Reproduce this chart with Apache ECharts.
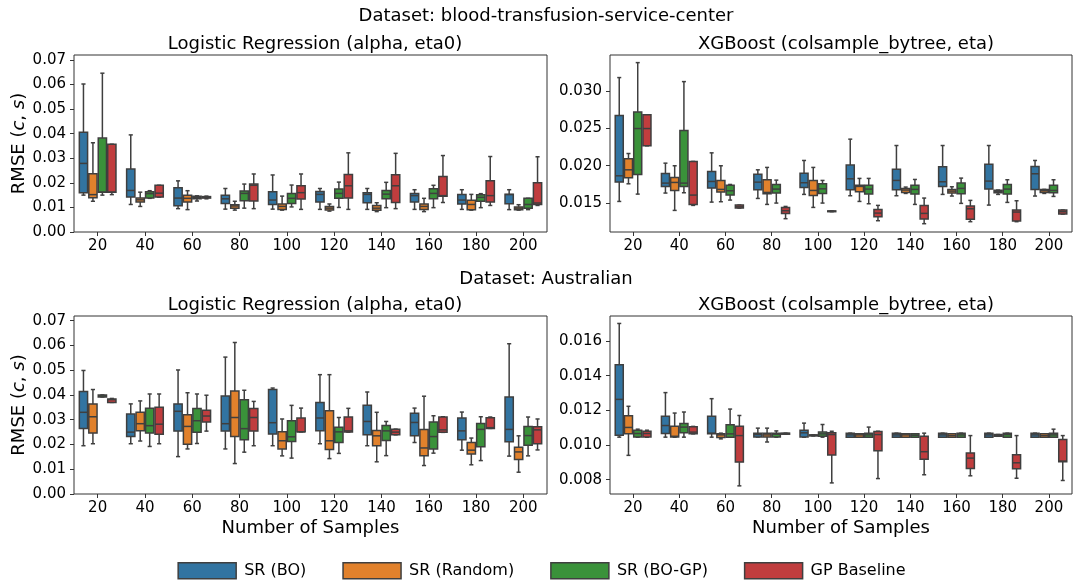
<!DOCTYPE html>
<html>
<head>
<meta charset="utf-8">
<script src="https://cdn.jsdelivr.net/npm/echarts@6/dist/echarts.min.js"></script>
<style>
  html, body { margin: 0; padding: 0; background: #fff; }
  #chart { width: 1083px; height: 580px; }
</style>
</head>
<body>
<div id="chart"></div>
<script>
// Sample sizes on the x axis
const categories = ['20', '40', '60', '80', '100', '120', '140', '160', '180', '200'];
const seriesNames = ['SR (BO)', 'SR (Random)', 'SR (BO-GP)', 'GP Baseline'];
const seriesColors = ['#3274a1', '#e1812c', '#3a923a', '#c03d3e'];

// Each entry: [lower whisker, Q1, median, Q3, upper whisker]
// blood-transfusion-service-center, Logistic Regression
const bloodLR_BO = [
  [0.0150, 0.0160, 0.0279, 0.0406, 0.0602], [0.0112, 0.0142, 0.0169, 0.0256, 0.0395],
  [0.0095, 0.0107, 0.0138, 0.0180, 0.0208], [0.0093, 0.0116, 0.0135, 0.0150, 0.0177],
  [0.0093, 0.0112, 0.0130, 0.0164, 0.0232], [0.0092, 0.0122, 0.0153, 0.0165, 0.0177],
  [0.0092, 0.0119, 0.0153, 0.0160, 0.0177], [0.0092, 0.0122, 0.0148, 0.0157, 0.0172],
  [0.0092, 0.0114, 0.0130, 0.0153, 0.0172], [0.0091, 0.0115, 0.0152, 0.0154, 0.0172]
];
const bloodLR_Random = [
  [0.0125, 0.0139, 0.0152, 0.0237, 0.0363], [0.0104, 0.0122, 0.0131, 0.0138, 0.0162],
  [0.0091, 0.0122, 0.0137, 0.0149, 0.0168], [0.0089, 0.0097, 0.0106, 0.0111, 0.0125],
  [0.0089, 0.0092, 0.0104, 0.0114, 0.0146], [0.0085, 0.0089, 0.0097, 0.0104, 0.0114],
  [0.0083, 0.0088, 0.0097, 0.0108, 0.0119], [0.0083, 0.0092, 0.0104, 0.0114, 0.0137],
  [0.0089, 0.0091, 0.0112, 0.0129, 0.0153], [0.0089, 0.0091, 0.0097, 0.0102, 0.0111]
];
const bloodLR_BOGP = [
  [0.0150, 0.0162, 0.0162, 0.0382, 0.0646], [0.0137, 0.0138, 0.0156, 0.0164, 0.0168],
  [0.0126, 0.0135, 0.0141, 0.0145, 0.0147], [0.0097, 0.0127, 0.0157, 0.0167, 0.0195],
  [0.0102, 0.0116, 0.0137, 0.0157, 0.0191], [0.0100, 0.0137, 0.0157, 0.0175, 0.0203],
  [0.0099, 0.0135, 0.0154, 0.0169, 0.0202], [0.0099, 0.0135, 0.0157, 0.0176, 0.0190],
  [0.0099, 0.0125, 0.0141, 0.0152, 0.0156], [0.0091, 0.0097, 0.0112, 0.0137, 0.0137]
];
const bloodLR_GP = [
  [0.0152, 0.0162, 0.0162, 0.0357, 0.0357], [0.0142, 0.0142, 0.0158, 0.0190, 0.0190],
  [0.0135, 0.0138, 0.0141, 0.0144, 0.0146], [0.0095, 0.0126, 0.0190, 0.0195, 0.0236],
  [0.0092, 0.0134, 0.0160, 0.0188, 0.0236], [0.0092, 0.0138, 0.0188, 0.0234, 0.0322],
  [0.0095, 0.0120, 0.0188, 0.0233, 0.0320], [0.0120, 0.0145, 0.0148, 0.0226, 0.0311],
  [0.0108, 0.0122, 0.0148, 0.0208, 0.0307], [0.0108, 0.0112, 0.0118, 0.0200, 0.0306]
];

// blood-transfusion-service-center, XGBoost
const bloodXGB_BO = [
  [0.01522, 0.01781, 0.01865, 0.02671, 0.03179], [0.01634, 0.01723, 0.01767, 0.01896, 0.02034],
  [0.01513, 0.01700, 0.01789, 0.01923, 0.02172], [0.01562, 0.01678, 0.01780, 0.01887, 0.01945],
  [0.01616, 0.01709, 0.01772, 0.01900, 0.02070], [0.01598, 0.01678, 0.01825, 0.02008, 0.02355],
  [0.01598, 0.01678, 0.01803, 0.01954, 0.02270], [0.01616, 0.01723, 0.01785, 0.01985, 0.02270],
  [0.01473, 0.01687, 0.01794, 0.02021, 0.02270], [0.01594, 0.01683, 0.01892, 0.01990, 0.02070]
];
const bloodXGB_Random = [
  [0.01758, 0.01838, 0.01945, 0.02092, 0.02163], [0.01402, 0.01669, 0.01776, 0.01843, 0.01999],
  [0.01518, 0.01647, 0.01683, 0.01803, 0.01999], [0.01482, 0.01625, 0.01642, 0.01812, 0.01977],
  [0.01442, 0.01602, 0.01669, 0.01803, 0.01977], [0.01522, 0.01651, 0.01723, 0.01740, 0.01830],
  [0.01629, 0.01642, 0.01674, 0.01696, 0.01714], [0.01594, 0.01634, 0.01660, 0.01683, 0.01718],
  [0.01616, 0.01638, 0.01656, 0.01670, 0.01674], [0.01629, 0.01642, 0.01665, 0.01683, 0.01683]
];
const bloodXGB_BOGP = [
  [0.01620, 0.01883, 0.02497, 0.02720, 0.03379], [0.01638, 0.01723, 0.01767, 0.02471, 0.03125],
  [0.01540, 0.01607, 0.01665, 0.01740, 0.01749], [0.01500, 0.01634, 0.01687, 0.01749, 0.01807],
  [0.01500, 0.01629, 0.01691, 0.01758, 0.01803], [0.01491, 0.01620, 0.01687, 0.01740, 0.01830],
  [0.01482, 0.01620, 0.01683, 0.01740, 0.01816], [0.01496, 0.01625, 0.01696, 0.01767, 0.01834],
  [0.01509, 0.01620, 0.01687, 0.01749, 0.01812], [0.01589, 0.01638, 0.01669, 0.01740, 0.01812]
];
const bloodXGB_GP = [
  [0.02266, 0.02266, 0.02497, 0.02680, 0.02680], [0.01469, 0.01482, 0.01607, 0.02057, 0.02057],
  [0.01433, 0.01433, 0.01450, 0.01473, 0.01473], [0.01291, 0.01362, 0.01398, 0.01442, 0.01455],
  [0.01385, 0.01385, 0.01390, 0.01395, 0.01395], [0.01264, 0.01317, 0.01366, 0.01415, 0.01469],
  [0.01224, 0.01286, 0.01362, 0.01469, 0.01567], [0.01251, 0.01282, 0.01424, 0.01460, 0.01536],
  [0.01251, 0.01260, 0.01380, 0.01407, 0.01531], [0.01353, 0.01353, 0.01384, 0.01407, 0.01407]
];

// Australian, Logistic Regression
const ausLR_BO = [
  [0.0195, 0.0265, 0.0330, 0.0414, 0.0499], [0.0203, 0.0232, 0.0250, 0.0323, 0.0364],
  [0.0151, 0.0254, 0.0334, 0.0364, 0.0501], [0.0182, 0.0254, 0.0284, 0.0396, 0.0553],
  [0.0195, 0.0242, 0.0288, 0.0422, 0.0428], [0.0203, 0.0255, 0.0307, 0.0370, 0.0482],
  [0.0195, 0.0239, 0.0293, 0.0358, 0.0412], [0.0208, 0.0235, 0.0289, 0.0326, 0.0347],
  [0.0177, 0.0219, 0.0255, 0.0307, 0.0331], [0.0153, 0.0211, 0.0261, 0.0392, 0.0607]
];
const ausLR_Random = [
  [0.0203, 0.0246, 0.0312, 0.0364, 0.0422], [0.0214, 0.0255, 0.0284, 0.0330, 0.0376],
  [0.0182, 0.0201, 0.0273, 0.0320, 0.0409], [0.0123, 0.0232, 0.0309, 0.0416, 0.0612],
  [0.0154, 0.0182, 0.0215, 0.0251, 0.0303], [0.0143, 0.0180, 0.0215, 0.0336, 0.0482],
  [0.0130, 0.0195, 0.0235, 0.0257, 0.0330], [0.0115, 0.0154, 0.0186, 0.0261, 0.0395],
  [0.0118, 0.0162, 0.0177, 0.0208, 0.0226], [0.0088, 0.0139, 0.0170, 0.0189, 0.0235]
];
const ausLR_BOGP = [
  [0.0392, 0.0392, 0.0396, 0.0400, 0.0400], [0.0192, 0.0246, 0.0276, 0.0346, 0.0404],
  [0.0204, 0.0249, 0.0296, 0.0345, 0.0404], [0.0169, 0.0219, 0.0264, 0.0381, 0.0419],
  [0.0145, 0.0212, 0.0231, 0.0296, 0.0358], [0.0164, 0.0208, 0.0251, 0.0270, 0.0309],
  [0.0155, 0.0216, 0.0255, 0.0277, 0.0293], [0.0165, 0.0182, 0.0232, 0.0291, 0.0316],
  [0.0135, 0.0191, 0.0261, 0.0285, 0.0312], [0.0154, 0.0197, 0.0236, 0.0273, 0.0311]
];
const ausLR_GP = [
  [0.0370, 0.0370, 0.0381, 0.0384, 0.0386], [0.0203, 0.0241, 0.0282, 0.0350, 0.0404],
  [0.0254, 0.0291, 0.0315, 0.0338, 0.0399], [0.0195, 0.0254, 0.0309, 0.0345, 0.0374],
  [0.0251, 0.0251, 0.0251, 0.0307, 0.0347], [0.0250, 0.0250, 0.0255, 0.0311, 0.0346],
  [0.0239, 0.0239, 0.0250, 0.0262, 0.0262], [0.0249, 0.0249, 0.0259, 0.0311, 0.0312],
  [0.0265, 0.0265, 0.0268, 0.0308, 0.0311], [0.0178, 0.0203, 0.0259, 0.0272, 0.0303]
];

// Australian, XGBoost
const ausXGB_BO = [
  [0.01045, 0.01056, 0.01263, 0.01463, 0.01701], [0.01045, 0.01066, 0.01112, 0.01165, 0.01302],
  [0.01045, 0.01064, 0.01068, 0.01165, 0.01267], [0.01046, 0.01046, 0.01060, 0.01068, 0.01097],
  [0.01045, 0.01046, 0.01070, 0.01085, 0.01126], [0.01045, 0.01045, 0.01058, 0.01068, 0.01068],
  [0.01045, 0.01045, 0.01058, 0.01068, 0.01068], [0.01045, 0.01045, 0.01058, 0.01068, 0.01068],
  [0.01045, 0.01045, 0.01058, 0.01068, 0.01068], [0.01045, 0.01045, 0.01058, 0.01068, 0.01068]
];
const ausXGB_Random = [
  [0.00940, 0.01064, 0.01101, 0.01169, 0.01223], [0.01045, 0.01046, 0.01050, 0.01108, 0.01184],
  [0.01035, 0.01043, 0.01058, 0.01064, 0.01068], [0.01017, 0.01046, 0.01058, 0.01068, 0.01097],
  [0.01052, 0.01052, 0.01056, 0.01058, 0.01058], [0.01045, 0.01045, 0.01058, 0.01064, 0.01064],
  [0.01045, 0.01045, 0.01058, 0.01064, 0.01064], [0.01045, 0.01045, 0.01054, 0.01064, 0.01064],
  [0.01050, 0.01050, 0.01056, 0.01060, 0.01060], [0.01045, 0.01045, 0.01054, 0.01064, 0.01064]
];
const ausXGB_BOGP = [
  [0.01045, 0.01046, 0.01066, 0.01085, 0.01091], [0.01045, 0.01070, 0.01103, 0.01124, 0.01190],
  [0.01045, 0.01045, 0.01064, 0.01116, 0.01207], [0.01045, 0.01046, 0.01062, 0.01068, 0.01081],
  [0.01045, 0.01050, 0.01064, 0.01074, 0.01118], [0.01045, 0.01045, 0.01058, 0.01068, 0.01103],
  [0.01045, 0.01045, 0.01056, 0.01064, 0.01064], [0.01045, 0.01045, 0.01058, 0.01068, 0.01068],
  [0.01045, 0.01045, 0.01060, 0.01068, 0.01068], [0.01045, 0.01045, 0.01058, 0.01068, 0.01091]
];
const ausXGB_GP = [
  [0.01045, 0.01046, 0.01066, 0.01079, 0.01085], [0.01064, 0.01064, 0.01074, 0.01105, 0.01107],
  [0.00764, 0.00901, 0.01054, 0.01108, 0.01170], [0.01062, 0.01062, 0.01066, 0.01068, 0.01068],
  [0.00781, 0.00942, 0.01060, 0.01070, 0.01079], [0.00806, 0.00967, 0.01060, 0.01077, 0.01079],
  [0.00828, 0.00917, 0.00961, 0.01050, 0.01068], [0.00822, 0.00864, 0.00924, 0.00954, 0.01054],
  [0.00808, 0.00862, 0.00897, 0.00944, 0.01054], [0.00795, 0.00903, 0.00907, 0.01031, 0.01054]
];

// Tick values for the y axes
const lrTicks = [0, 0.01, 0.02, 0.03, 0.04, 0.05, 0.06, 0.07];
const bloodXGBTicks = [0.015, 0.020, 0.025, 0.030];
const ausXGBTicks = [0.008, 0.010, 0.012, 0.014, 0.016];

const FONT = 'DejaVu Sans';
const LINE = '#3f3f3f';
const SPINE = '#333';

const panels = [
  { grid: { left: 74, top: 55, width: 473, height: 177 }, min: 0, max: 0.0720, ticks: lrTicks, digits: 2,
    yName: true, xName: false, data: [bloodLR_BO, bloodLR_Random, bloodLR_BOGP, bloodLR_GP] },
  { grid: { left: 610, top: 55, width: 462, height: 177 }, min: 0.01113, max: 0.03481, ticks: bloodXGBTicks, digits: 3,
    yName: false, xName: false, data: [bloodXGB_BO, bloodXGB_Random, bloodXGB_BOGP, bloodXGB_GP] },
  { grid: { left: 74, top: 316, width: 473, height: 178 }, min: 0, max: 0.0719, ticks: lrTicks, digits: 2,
    yName: true, xName: true, data: [ausLR_BO, ausLR_Random, ausLR_BOGP, ausLR_GP] },
  { grid: { left: 610, top: 316, width: 462, height: 178 }, min: 0.00717, max: 0.01744, ticks: ausXGBTicks, digits: 3,
    yName: false, xName: true, data: [ausXGB_BO, ausXGB_Random, ausXGB_BOGP, ausXGB_GP] }
];

// Draws one box: whiskers with half-width caps, filled box, median line
function boxRenderer(hue) {
  return function (params, api) {
    const cat = api.value(0);
    const band = api.size([1, 0])[0];
    const slot = band * 0.8 / 4;
    const cx = api.coord([cat, 0])[0] + (hue - 1.5) * slot;
    const w = slot - 1.2;
    const capHalf = w / 4;
    const y = (i) => api.coord([cat, api.value(i)])[1];
    const yLow = y(1), yQ1 = y(2), yMed = y(3), yQ3 = y(4), yHigh = y(5);
    const lineStyle = { stroke: LINE, lineWidth: 1.5, fill: null };
    return {
      type: 'group',
      children: [
        { type: 'line', shape: { x1: cx, y1: yQ3, x2: cx, y2: yHigh }, style: lineStyle },
        { type: 'line', shape: { x1: cx, y1: yQ1, x2: cx, y2: yLow }, style: lineStyle },
        { type: 'line', shape: { x1: cx - capHalf, y1: yHigh, x2: cx + capHalf, y2: yHigh }, style: lineStyle },
        { type: 'line', shape: { x1: cx - capHalf, y1: yLow, x2: cx + capHalf, y2: yLow }, style: lineStyle },
        { type: 'rect', shape: { x: cx - w / 2, y: yQ3, width: w, height: Math.max(yQ1 - yQ3, 0.5) },
          style: { fill: seriesColors[hue], stroke: LINE, lineWidth: 1.5 } },
        { type: 'line', shape: { x1: cx - w / 2, y1: yMed, x2: cx + w / 2, y2: yMed }, style: lineStyle }
      ]
    };
  };
}

const grids = [], xAxes = [], yAxes = [], series = [];
panels.forEach((p, i) => {
  grids.push(Object.assign({ show: true, borderColor: SPINE, borderWidth: 1, backgroundColor: '#fff' }, p.grid));
  xAxes.push({
    type: 'category', gridIndex: i, data: categories, boundaryGap: true,
    axisLine: { show: false },
    axisTick: { show: true, alignWithLabel: true, length: 4, lineStyle: { color: SPINE } },
    axisLabel: { fontFamily: FONT, fontSize: 15, color: '#000', margin: 7 },
    name: p.xName ? 'Number of Samples' : '', nameLocation: 'middle', nameGap: 25,
    nameTextStyle: { fontFamily: FONT, fontSize: 18, color: '#000' }
  });
  yAxes.push({
    type: 'value', gridIndex: i, min: p.min, max: p.max,
    splitLine: { show: false }, axisLine: { show: false },
    axisTick: { show: true, length: 4, customValues: p.ticks, lineStyle: { color: SPINE } },
    axisLabel: { fontFamily: FONT, fontSize: 15, color: '#000', margin: 8, customValues: p.ticks,
      formatter: (v) => v.toFixed(p.digits) },
    name: p.yName ? 'RMSE ({it|c}, {it|s})' : '', nameLocation: 'middle', nameGap: 42, nameRotate: 90,
    nameTextStyle: { fontFamily: FONT, fontSize: 18, color: '#000',
      rich: { it: { fontFamily: FONT, fontSize: 18, fontStyle: 'italic', color: '#000' } } }
  });
  p.data.forEach((arr, hue) => {
    series.push({
      type: 'custom', name: seriesNames[hue], xAxisIndex: i, yAxisIndex: i,
      itemStyle: { color: seriesColors[hue] },
      renderItem: boxRenderer(hue),
      encode: { x: 0, y: [1, 2, 3, 4, 5] },
      data: arr.map((d, k) => [k].concat(d)),
      silent: true, animation: false
    });
  });
});

const titleStyle = { fontFamily: FONT, fontSize: 18, fontWeight: 'normal', color: '#000' };
const chart = echarts.init(document.getElementById('chart'), null, { renderer: 'canvas' });
chart.setOption({
  animation: false,
  backgroundColor: '#fff',
  title: [
    { text: 'Dataset: blood-transfusion-service-center', left: 541, top: 2, textAlign: 'center', textStyle: titleStyle },
    { text: 'Logistic Regression (alpha, eta0)', left: 310, top: 30, textAlign: 'center', textStyle: titleStyle },
    { text: 'XGBoost (colsample_bytree, eta)', left: 841, top: 30, textAlign: 'center', textStyle: titleStyle },
    { text: 'Dataset: Australian', left: 541, top: 265, textAlign: 'center', textStyle: titleStyle },
    { text: 'Logistic Regression (alpha, eta0)', left: 310, top: 291, textAlign: 'center', textStyle: titleStyle },
    { text: 'XGBoost (colsample_bytree, eta)', left: 841, top: 291, textAlign: 'center', textStyle: titleStyle }
  ],
  legend: {
    left: 'center', top: 557, itemWidth: 58, itemHeight: 16, itemGap: 36,
    textStyle: { fontFamily: FONT, fontSize: 16, color: '#000', padding: [0, 0, 0, 3] },
    data: seriesNames.map((n, k) => ({
      name: n, icon: 'rect',
      itemStyle: { color: seriesColors[k], borderColor: LINE, borderWidth: 1.5 }
    }))
  },
  grid: grids,
  xAxis: xAxes,
  yAxis: yAxes,
  series: series
});
</script>
</body>
</html>
